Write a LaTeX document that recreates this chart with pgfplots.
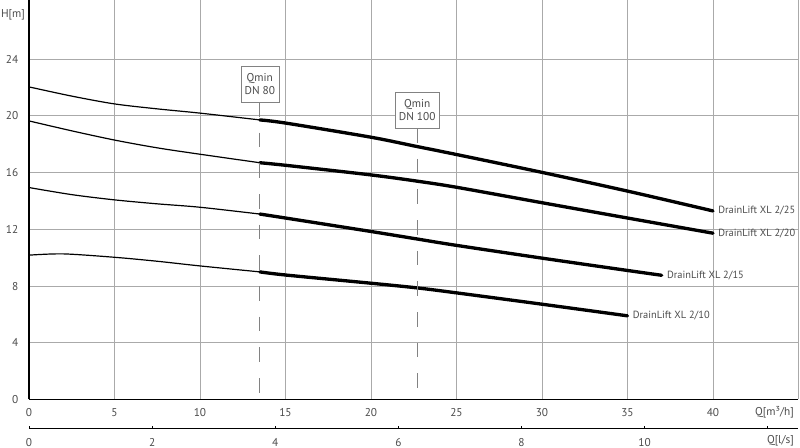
\documentclass[border=0pt]{standalone}
\usepackage{pgfplots}
\pgfplotsset{compat=1.18}
\usepackage{fontspec}
\setmainfont{PT Sans}
\definecolor{gridgray}{RGB}{170,170,170}
\definecolor{dashgray}{RGB}{130,130,130}
\definecolor{txt}{RGB}{75,75,75}

\begin{document}
\begin{tikzpicture}[font=\fontsize{8.5}{10}\selectfont]
\useasboundingbox (-21.75pt,-36.4pt) rectangle (578.25pt,299.6pt);
\begin{axis}[at={(0,0)}, anchor=south west,
  scale only axis, width=577.1pt, height=299.8pt,
  xmin=0, xmax=45, ymin=0, ymax=28.2,
  axis x line*=bottom, axis y line*=left,
  axis line style={-, black, line width=0.9pt},
  xtick={0,5,...,40}, ytick={0,4,...,24},
  extra x ticks={45}, extra x tick labels={},
  grid=major, major grid style={gridgray, line width=0.7pt},
  major tick length=0pt,
  tick label style={txt},
  /pgf/number format/assume math mode=true,
  xticklabel style={yshift=-3.5pt},
  yticklabel style={xshift=-4.5pt},
  clip=false]

% thin parts (below Qmin)
\addplot[black, line width=0.9pt, smooth, tension=0.5] coordinates {(0,22.05) (2.5,21.4) (5,20.85) (7.5,20.5) (10,20.2) (13.5,19.72)};
\addplot[black, line width=0.9pt, smooth, tension=0.5] coordinates {(0,19.65) (2.5,18.95) (5,18.3) (7.5,17.75) (10,17.3) (13.5,16.7)};
\addplot[black, line width=0.9pt, smooth, tension=0.5] coordinates {(0,14.95) (2.5,14.45) (5,14.08) (7.5,13.8) (10,13.56) (13.5,13.08)};
\addplot[black, line width=0.9pt, smooth, tension=0.5] coordinates {(0,10.18) (2,10.27) (5,10.03) (7.5,9.75) (10,9.42) (13.5,9.0)};

% thick parts (operating range)
\addplot[black, line width=2.5pt, line cap=round, smooth, tension=0.5] coordinates {(13.5,19.72) (15,19.5) (20,18.5) (22.7,17.84) (25,17.28) (30,16.02) (35,14.7) (40,13.3)};
\addplot[black, line width=2.5pt, line cap=round, smooth, tension=0.5] coordinates {(13.5,16.7) (15,16.52) (20,15.84) (22.7,15.4) (25,14.97) (30,13.88) (35,12.8) (40,11.73)};
\addplot[black, line width=2.5pt, line cap=round, smooth, tension=0.5] coordinates {(13.5,13.08) (15,12.8) (20,11.85) (22.7,11.32) (25,10.87) (30,9.97) (35,9.1) (37,8.76)};
\addplot[black, line width=2.5pt, line cap=round, smooth, tension=0.5] coordinates {(13.5,9.0) (15,8.78) (20,8.2) (22.7,7.87) (25,7.52) (30,6.72) (35,5.9)};

\node[txt, anchor=west, xshift=0.5pt, font=\fontsize{7.8}{9}\selectfont] at (axis cs:40,13.3) {DrainLift XL 2/25};
\node[txt, anchor=west, xshift=0.5pt, font=\fontsize{7.8}{9}\selectfont] at (axis cs:40,11.73) {DrainLift XL 2/20};
\node[txt, anchor=west, xshift=0.5pt, font=\fontsize{7.8}{9}\selectfont] at (axis cs:37,8.76) {DrainLift XL 2/15};
\node[txt, anchor=west, xshift=0.5pt, font=\fontsize{7.8}{9}\selectfont] at (axis cs:35,5.9) {DrainLift XL 2/10};

\node[txt, draw=dashgray, fill=white, align=center, inner sep=2pt, minimum width=28.5pt, minimum height=27pt] (b1) at (axis cs:13.5,22.27) {Qmin\\DN 80};
\node[txt, draw=dashgray, fill=white, align=center, inner sep=2pt, minimum width=33.5pt, minimum height=27pt] (b2) at (axis cs:22.7,20.43) {Qmin\\DN 100};
\draw[dashgray, line width=0.8pt, dash pattern=on 11pt off 12pt] (b1.south) -- (axis cs:13.5,0);
\draw[dashgray, line width=0.8pt, dash pattern=on 11pt off 12pt] (b2.south) -- (axis cs:22.7,0);

\node[txt, anchor=east, inner sep=0pt, xshift=-3pt] at (axis cs:0,27.1) {H[m]};
\node[txt, anchor=east, yshift=-9.3pt] at (axis cs:45,0) {Q[m³/h]};
\end{axis}

\begin{axis}[at={(0,-21.9pt)}, anchor=south west,
  scale only axis, width=577.1pt, height=5pt,
  xmin=0, xmax=12.5, ymin=0, ymax=1,
  axis x line*=bottom, axis y line=none,
  axis line style={-, black, line width=0.8pt},
  xtick={0,2,...,12}, xticklabels={0,2,4,6,8,10,{}},
  tick align=inside, major tick length=2pt,
  tick style={black, line width=0.6pt},
  tick label style={txt},
  /pgf/number format/assume math mode=true,
  xticklabel style={yshift=-3.5pt},
  clip=false]
\node[txt, anchor=east, yshift=-9.3pt] at (axis cs:12.5,0) {Q[l/s]};
\end{axis}
\end{tikzpicture}
\end{document}
